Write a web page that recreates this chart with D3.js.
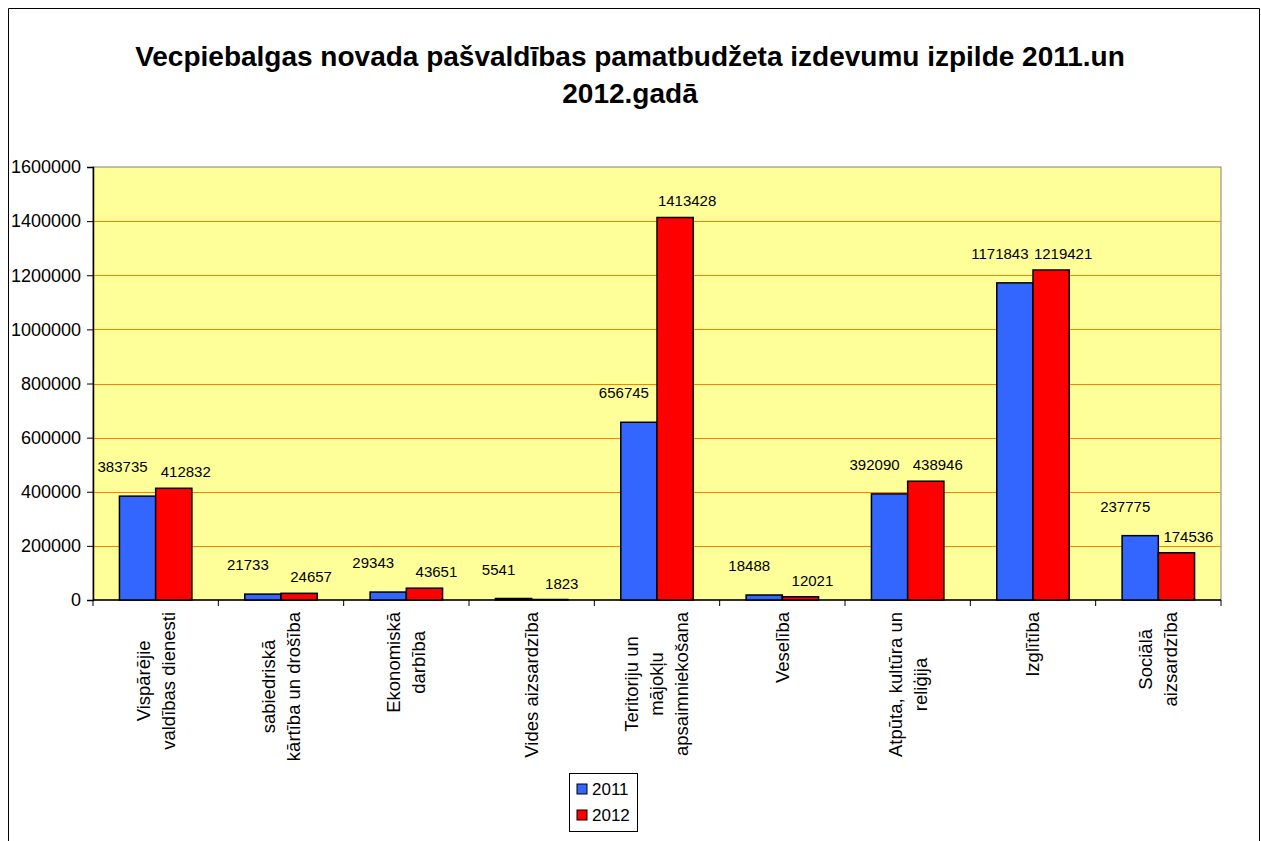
<!DOCTYPE html>
<html>
<head>
<meta charset="utf-8">
<script src="https://cdn.jsdelivr.net/npm/d3@7"></script>
<style>
  body { margin: 0; background: #fff; }
  svg { display: block; font-family: Arial, "Liberation Sans", sans-serif; }
</style>
</head>
<body>
<div id="chart"></div>
<script>
// categories, with line breaks as in the original chart
const categories = [
  'Vispārējie\nvaldības dienesti',
  'sabiedriskā\nkārtība un drošība',
  'Ekonomiskā\ndarbība',
  'Vides  aizsardzība',
  'Teritoriju un\nmājokļu\napsaimniekošana',
  'Veselība',
  'Atpūta,  kultūra un\nreliģija',
  'Izglītība',
  'Sociālā\naizsardzība'
];
const years = ['2011', '2012'];
const values2011 = [383735, 21733, 29343, 5541, 656745, 18488, 392090, 1171843, 237775];
const values2012 = [412832, 24657, 43651, 1823, 1413428, 12021, 438946, 1219421, 174536];
const yTicks = [0, 200000, 400000, 600000, 800000, 1000000, 1200000, 1400000, 1600000];
const colors = ['#3366FF', '#FF0000'];
const titleLines = ['Vecpiebalgas novada pašvaldības pamatbudžeta izdevumu izpilde 2011.un', '2012.gadā'];

const W = 1261, H = 841;
const plot = { left: 93, right: 1221, top: 167, bottom: 600 };

const svg = d3.select('#chart').append('svg').attr('width', W).attr('height', H);

// outer chart frame
svg.append('path')
   .attr('d', `M8.5,${H} V8.5 H1259.5 V${H}`)
   .attr('fill', 'none').attr('stroke', '#000').attr('stroke-width', 1);

// title
svg.append('g').selectAll('text')
   .data(titleLines)
   .join('text')
   .attr('x', 630).attr('y', (d, i) => 66 + i * 37)
   .attr('text-anchor', 'middle')
   .attr('font-size', 28).attr('font-weight', 'bold')
   .text(d => d);

const x0 = d3.scaleBand().domain(categories).range([plot.left, plot.right]).padding(0);
const x1 = d3.scaleBand().domain(years).range([0, x0.bandwidth()]).paddingInner(0).paddingOuter(0.73);
const y = d3.scaleLinear().domain([0, 1600000]).range([plot.bottom, plot.top]);

// plot area
svg.append('rect')
   .attr('x', plot.left).attr('y', plot.top)
   .attr('width', plot.right - plot.left).attr('height', plot.bottom - plot.top)
   .attr('fill', '#FFFF99').attr('stroke', '#808080').attr('stroke-width', 1);

// gridlines
svg.append('g').selectAll('line')
   .data(yTicks.filter(d => d > 0 && d < 1600000))
   .join('line')
   .attr('x1', plot.left).attr('x2', plot.right)
   .attr('y1', d => Math.round(y(d)) + 0.5).attr('y2', d => Math.round(y(d)) + 0.5)
   .attr('stroke', '#FF8000').attr('stroke-width', 1.2);

// y axis
const yAxis = svg.append('g')
   .attr('transform', `translate(${plot.left},0)`)
   .call(d3.axisLeft(y).tickValues(yTicks).tickFormat(d3.format('d')).tickSize(6).tickPadding(6));
yAxis.select('.domain').attr('stroke', '#000').attr('stroke-width', 1.5);
yAxis.selectAll('.tick line').attr('stroke', '#000');
yAxis.selectAll('.tick text').attr('font-size', 18).attr('fill', '#000')
     .attr('font-family', 'Arial, "Liberation Sans", sans-serif');

// x axis (ticks on category boundaries)
const xAxis = svg.append('g').attr('transform', `translate(0,${plot.bottom})`);
xAxis.append('line')
     .attr('x1', plot.left).attr('x2', plot.right)
     .attr('stroke', '#000').attr('stroke-width', 1.5);
xAxis.selectAll('line.tick')
     .data(categories.concat(['__end']))
     .join('line').attr('class', 'tick')
     .attr('x1', (d, i) => plot.left + i * x0.step()).attr('x2', (d, i) => plot.left + i * x0.step())
     .attr('y1', 0).attr('y2', 6)
     .attr('stroke', '#000');

// bars
const series = [values2011, values2012];
const groups = svg.append('g').selectAll('g')
   .data(categories)
   .join('g')
   .attr('transform', d => `translate(${x0(d)},0)`);

groups.selectAll('rect')
   .data((d, i) => years.map((yr, s) => ({ yr, s, v: series[s][i] })))
   .join('rect')
   .attr('x', d => x1(d.yr))
   .attr('y', d => y(d.v))
   .attr('width', x1.bandwidth())
   .attr('height', d => y(0) - y(d.v))
   .attr('fill', d => colors[d.s])
   .attr('stroke', '#000').attr('stroke-width', 1.5);

// data labels
const labelShift = [{ dx: -15, dy: -24 }, { dx: 12, dy: -11 }];
groups.selectAll('text')
   .data((d, i) => years.map((yr, s) => ({ yr, s, v: series[s][i] })))
   .join('text')
   .attr('x', d => x1(d.yr) + x1.bandwidth() / 2 + labelShift[d.s].dx)
   .attr('y', d => y(d.v) + labelShift[d.s].dy)
   .attr('text-anchor', 'middle')
   .attr('font-size', 15)
   .text(d => d.v);

// category labels, rotated
const catG = svg.append('g').selectAll('g')
   .data(categories)
   .join('g')
   .attr('transform', d => `translate(${x0(d) + x0.bandwidth() / 2},612) rotate(-90)`);

catG.each(function(d) {
  const lines = d.split('\n');
  const g = d3.select(this);
  const texts = g.selectAll('text')
     .data(lines)
     .join('text')
     .attr('font-size', 18.5)
     .attr('text-anchor', 'middle')
     .attr('y', (l, i) => (i - (lines.length - 1) / 2) * 25)
     .attr('dy', '0.35em')
     .text(l => l);
  let maxLen = 0;
  texts.each(function() { maxLen = Math.max(maxLen, this.getComputedTextLength()); });
  texts.attr('x', -maxLen / 2);
});

// legend
const legend = svg.append('g').attr('transform', 'translate(569,773)');
legend.append('rect')
      .attr('x', 0.5).attr('y', 0.5).attr('width', 68).attr('height', 58)
      .attr('fill', '#fff').attr('stroke', '#000');
const items = legend.selectAll('g.item')
      .data(years)
      .join('g').attr('class', 'item')
      .attr('transform', (d, i) => `translate(8,${16 + i * 26})`);
items.append('rect')
     .attr('x', 0).attr('y', -5).attr('width', 10).attr('height', 10)
     .attr('fill', (d, i) => colors[i]).attr('stroke', '#000');
items.append('text')
     .attr('x', 15).attr('dy', '0.35em')
     .attr('font-size', 17)
     .text(d => d);
</script>
</body>
</html>
